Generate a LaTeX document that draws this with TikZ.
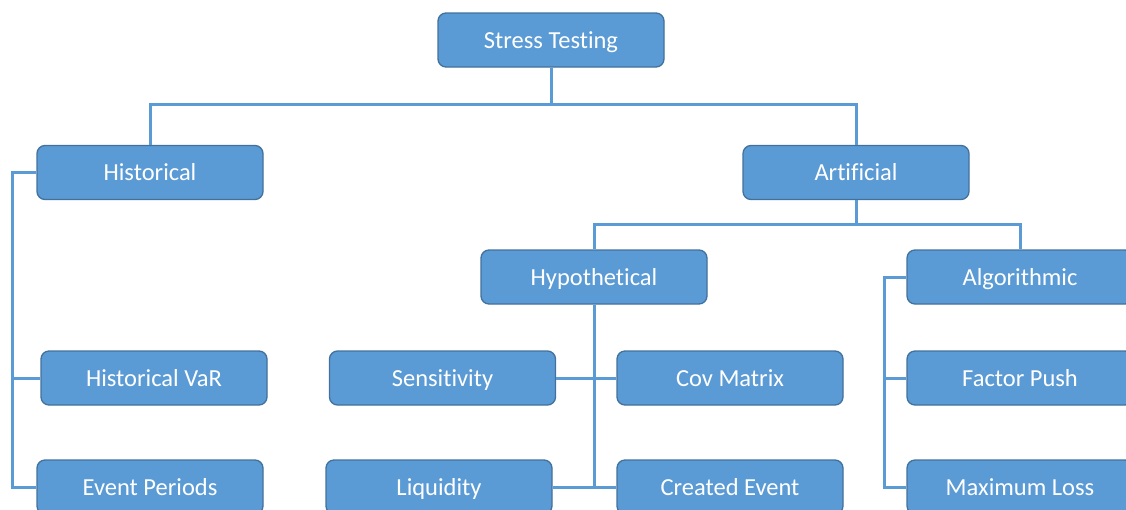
\documentclass[tikz,border=0pt]{standalone}
\usepackage{fontspec}
\setmainfont[Ligatures=NoCommon]{Carlito}
\definecolor{boxfill}{HTML}{5B9BD5}
\definecolor{boxline}{HTML}{41719C}
\definecolor{conn}{HTML}{5B9BD5}
\begin{document}
\begin{tikzpicture}[x=1pt,y=-1pt,
  box/.style={draw=boxline, fill=boxfill, line width=1.3pt, rounded corners=8pt,
    minimum width=226pt, minimum height=54pt, inner sep=0pt, text=white,
    text height=16pt, text depth=0pt,
    font=\fontsize{24.5}{28}\selectfont},
  link/.style={draw=conn, line width=3pt}]
\useasboundingbox (0,0) rectangle (1126,509);
\clip (0,0) rectangle (1126,509);
\node[box] (st) at (551,40) {Stress Testing};
\node[box] (hist) at (150,172.5) {Historical};
\node[box] (art) at (856,172.5) {Artificial};
\node[box] (hyp) at (594,277) {Hypothetical};
\node[box] (alg) at (1020,277) {Algorithmic};
\node[box] (hvar) at (154,378) {Historical VaR};
\node[box] (ep) at (150,487) {Event Periods};
\node[box] (sens) at (442.5,378) {Sensitivity};
\node[box] (cov) at (730,378) {Cov Matrix};
\node[box] (liq) at (439,487) {Liquidity};
\node[box] (ce) at (730,487) {Created Event};
\node[box] (fp) at (1020,378) {Factor Push};
\node[box] (ml) at (1020,487) {Maximum Loss};
\coordinate (hj) at (12,0);
\coordinate (aj) at (884,0);
\draw[link] (st.south) -- ++(0,37) -| (hist.north);
\draw[link] (st.south) -- ++(0,37) -| (art.north);
\draw[link] (art.south) -- ++(0,24) -| (hyp.north);
\draw[link] (art.south) -- ++(0,24) -| (alg.north);
\draw[link] (hist.west) -| (hj |- ep.west) -- (ep.west);
\draw[link] (hj |- hvar.west) -- (hvar.west);
\draw[link] (alg.west) -| (aj |- ml.west) -- (ml.west);
\draw[link] (aj |- fp.west) -- (fp.west);
\draw[link] (hyp.south) -- (hyp.south |- ce.west);
\draw[link] (sens.east) -- (cov.west);
\draw[link] (liq.east) -- (ce.west);
\end{tikzpicture}
\end{document}
